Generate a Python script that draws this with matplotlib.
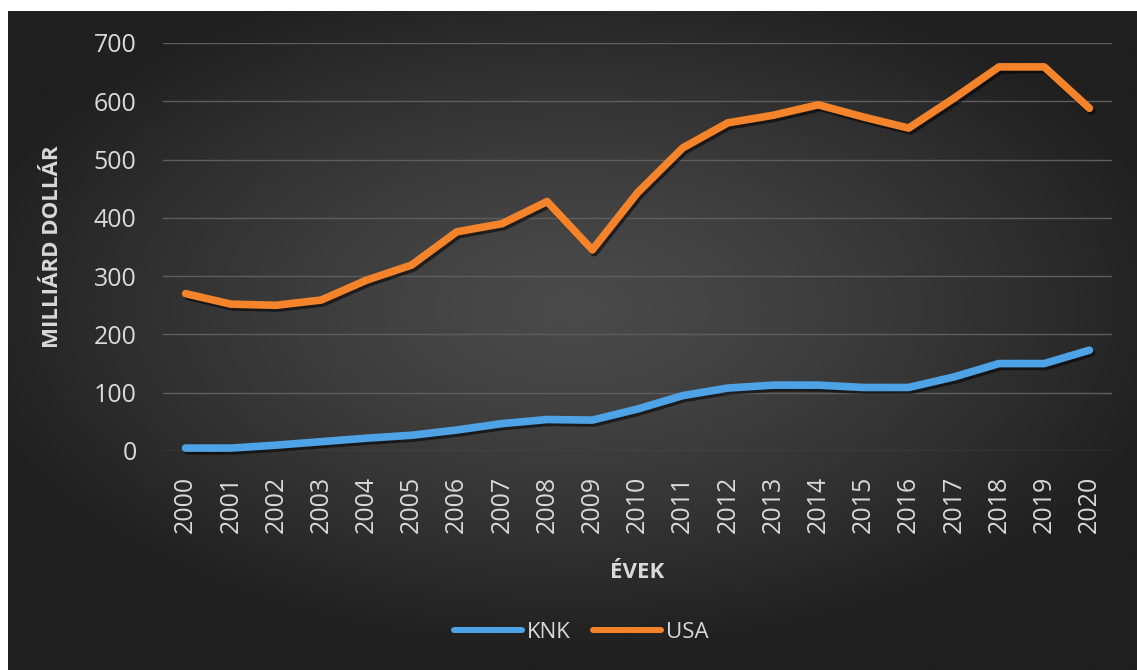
import matplotlib.pyplot as plt
import matplotlib.patheffects as pe
import numpy as np

plt.rcParams["font.family"] = ["Open Sans", "DejaVu Sans"]

years = [str(y) for y in range(2000, 2021)]
knk = [5, 5, 10, 16, 22, 27, 36, 47, 54, 53, 72, 95, 108, 113, 113, 109, 109, 127, 150, 150, 173]
usa = [270, 252, 250, 259, 293, 319, 376, 390, 428, 345, 443, 520, 563, 576, 594, 573, 554, 605, 659, 659, 588]
y_ticks = [0, 100, 200, 300, 400, 500, 600, 700]

TEXT = "#d9d9d9"
BLUE = "#4ea3e6"
ORANGE = "#f5832a"

W, H = 1137, 670
fig = plt.figure(figsize=(W / 100, H / 100), dpi=100)
fig.patch.set_facecolor("white")

# dark radial gradient panel behind the chart
bg = fig.add_axes([8 / W, 0, 1 - 8 / W, (H - 11) / H])
gx, gy = np.meshgrid(np.linspace(-1, 1, 400), np.linspace(-1, 1, 240))
r = np.clip(np.sqrt((gx / 1.1) ** 2 + ((gy + 0.1) / 1.05) ** 2), 0, 1)
shade = (0x4a - (0x4a - 0x20) * r ** 1.3) / 255
bg.imshow(np.dstack([shade, shade, shade]), aspect="auto", interpolation="bilinear")
bg.set_axis_off()

ax = fig.add_axes([163 / W, 1 - 451 / H, (1112 - 163) / W, (451 - 43) / H])
ax.set_facecolor("none")

x = np.arange(len(years))
shadow = [pe.SimpleLineShadow(offset=(1.5, -2), shadow_color="black", alpha=0.55), pe.Normal()]
ax.plot(x, knk, color=BLUE, lw=5.5, label="KNK", solid_capstyle="round",
        solid_joinstyle="round", clip_on=False, path_effects=shadow, zorder=3)
ax.plot(x, usa, color=ORANGE, lw=5.5, label="USA", solid_capstyle="round",
        solid_joinstyle="round", clip_on=False, path_effects=shadow, zorder=3)

ax.set_xlim(-0.5, len(years) - 0.5)
ax.set_ylim(0, 700)
ax.set_yticks(y_ticks)
ax.set_xticks(x)
ax.set_xticklabels(years, rotation=90)
ax.yaxis.grid(True, color="#5e5e5e", lw=1)
ax.set_axisbelow(True)
for s in ax.spines.values():
    s.set_visible(False)
ax.tick_params(axis="both", length=0, colors=TEXT, labelsize=18)
ax.tick_params(axis="y", pad=19)
ax.tick_params(axis="x", pad=18)

ax.set_xlabel("ÉVEK", color=TEXT, fontsize=16, fontweight="bold")
ax.xaxis.set_label_coords(0.5, -0.272)
ax.set_ylabel("MILLIÁRD DOLLÁR", color=TEXT, fontsize=16, fontweight="bold")
ax.yaxis.set_label_coords(-0.105, 0.5)

leg = ax.legend(loc="center", bbox_to_anchor=(581 / W, 1 - 632 / H),
                bbox_transform=fig.transFigure, ncol=2, frameon=False,
                fontsize=16, handlelength=3.06, handletextpad=0.22, columnspacing=1.0)
for t in leg.get_texts():
    t.set_color(TEXT)
for h in leg.get_lines():
    h.set_linewidth(4.3)
    h.set_path_effects([])

fig.savefig("out.png", dpi=100)
